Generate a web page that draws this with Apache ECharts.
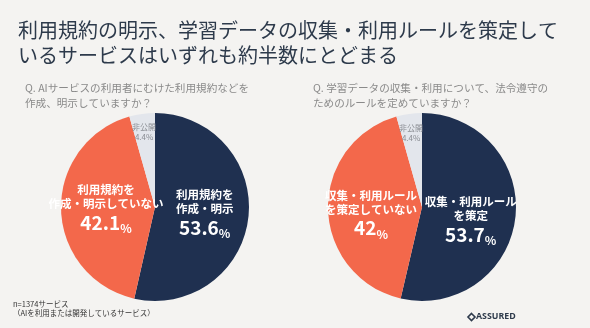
<!DOCTYPE html>
<html><head><meta charset="utf-8">
<script src="https://cdn.jsdelivr.net/npm/echarts@6/dist/echarts.min.js"></script>
<style>html,body{margin:0;padding:0;background:#f4f3f1}#c{width:590px;height:328px}</style>
</head><body><div id="c"></div>
<script>
const titleText = '利用規約の明示、学習データの収集・利用ルールを策定して\nいるサービスはいずれも約半数にとどまる';
const q1 = 'Q. AIサービスの利用者にむけた利用規約などを\n作成、明示していますか？';
const q2 = 'Q. 学習データの収集・利用について、法令遵守の\nためのルールを定めていますか？';
const names1 = ['利用規約を\n作成・明示', '利用規約を\n作成・明示していない', '非公開'];
const values1 = [53.6, 42.1, 4.4];
const names2 = ['収集・利用ルール\nを策定', '収集・利用ルール\nを策定していない', '非公開'];
const values2 = [53.7, 42, 4.4];
const note = 'n=1374サービス\n（AIを利用または開発しているサービス）';

const colors = ['#1f3050', '#f3684b', '#e3e6ec'];
const FONT = '"Noto Sans CJK JP", "Noto Sans", sans-serif';

function fmt(p) {
  if (p.dataIndex === 2) return '{s|' + p.name + '}\n{s|' + p.value + '%}';
  const lines = p.name.split('\n').map(l => '{t|' + l + '}').join('\n');
  return lines + '\n{v|' + p.value + '}{p|%}';
}
const rich = {
  t: {color: '#fff', fontSize: 11.5, fontWeight: 'bold', lineHeight: 14, fontFamily: FONT},
  v: {color: '#fff', fontSize: 19, fontWeight: 'bold', lineHeight: 24, fontFamily: FONT},
  p: {color: '#fff', fontSize: 12, fontWeight: 'bold', lineHeight: 24, fontFamily: FONT, verticalAlign: 'bottom'},
  s: {color: '#8a8d93', fontSize: 8, lineHeight: 10, fontFamily: FONT}
};
const offs1 = [[0, 1], [1, 0], [-4, -26]];
const offs2 = [[-1, 8], [-1, 6], [-4, -25]];
function makePie(center, names, values, offs) {
  return {
    type: 'pie', center: center, radius: 94, startAngle: 90, clockwise: true,
    animation: false, silent: true,
    data: names.map((n, i) => ({name: n, value: values[i], itemStyle: {color: colors[i]}})),
    label: {show: true, position: 'inside', formatter: fmt, rich: rich, align: 'center'},
    labelLine: {show: false},
    labelLayout: function (p) { const o = offs[p.dataIndex]; return {dx: o[0], dy: o[1]}; }
  };
}
const chart = echarts.init(document.getElementById('c'));
chart.setOption({
  backgroundColor: '#f4f3f1',
  title: {text: titleText, left: 13, top: 13,
    textStyle: {fontFamily: FONT, fontSize: 20, fontWeight: 'normal', color: '#2d3a4b', lineHeight: 25}},
  graphic: [
    {type: 'text', left: 25, top: 80, style: {text: q1, fontFamily: FONT, fontSize: 10.6, lineHeight: 15, fill: '#8a8a8a'}},
    {type: 'text', left: 313, top: 80, style: {text: q2, fontFamily: FONT, fontSize: 10.6, lineHeight: 15, fill: '#8a8a8a'}},
    {type: 'text', left: 13, top: 299, style: {text: note, fontFamily: FONT, fontSize: 7.5, lineHeight: 9.5, fill: '#333'}},
    {type: 'polygon', shape: {points: [[471.5, 313.5], [475, 317], [471.5, 320.5], [468, 317]]}, style: {fill: 'none', stroke: '#2d3a4b', lineWidth: 1.6}},
    {type: 'text', left: 476, top: 311.5, style: {text: 'ASSURED', fontFamily: '"Open Sans", sans-serif', fontWeight: 'bold', fontSize: 8.8, fill: '#2d3a4b'}}
  ],
  series: [makePie([155, 207], names1, values1, offs1), makePie([422, 207], names2, values2, offs2)]
});
</script></body></html>
